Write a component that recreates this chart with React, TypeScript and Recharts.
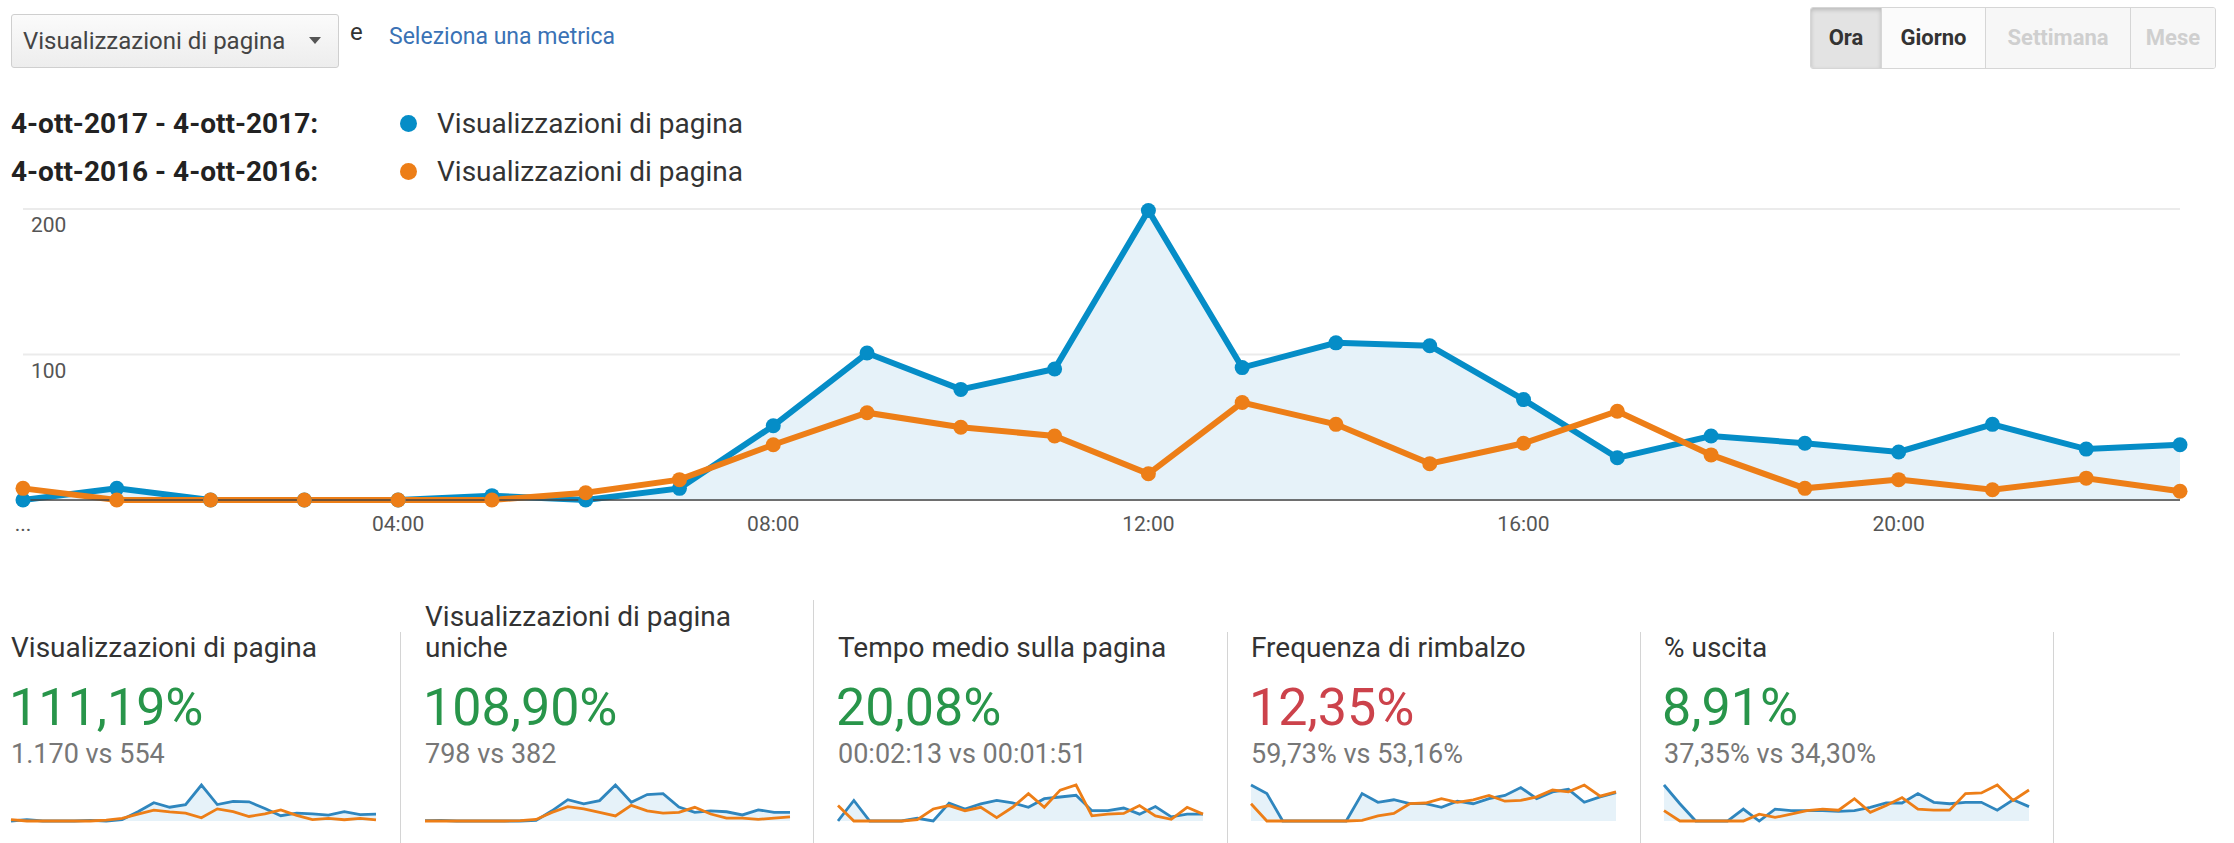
import React from "react";
import { ComposedChart, Area, Line, XAxis, YAxis, CartesianGrid } from "recharts";

// ore del giorno (asse X)
const hours = [0, 1, 2, 3, 4, 5, 6, 7, 8, 9, 10, 11, 12, 13, 14, 15, 16, 17, 18, 19, 20, 21, 22, 23];
const tickHours = [0, 4, 8, 12, 16, 20];
const tickLabels = ["...", "04:00", "08:00", "12:00", "16:00", "20:00"];
const yTicks = [0, 100, 200];

// visualizzazioni di pagina
const views2017 = [0, 8, 0, 0, 0, 3, 0, 8, 51, 101, 76, 90, 199, 91, 108, 106, 69, 29, 44, 39, 33, 52, 35, 38];
const views2016 = [8, 0, 0, 0, 0, 0, 5, 14, 38, 60, 50, 44, 18, 67, 52, 25, 39, 61, 31, 8, 14, 7, 15, 6];

// visualizzazioni di pagina uniche
const unique2017 = [1, 2, 0, 0, 0, 0, 0, 2, 32, 67, 54, 64, 113, 59, 83, 86, 44, 27, 32, 29, 19, 35, 27, 27];
const unique2016 = [0, 0, 0, 0, 0, 0, 1, 5, 27, 45, 38, 27, 16, 49, 32, 25, 27, 43, 22, 9, 9, 5, 9, 13];

// tempo medio sulla pagina (secondi)
const time2017 = [0, 144, 0, 0, 0, 19, 0, 125, 84, 120, 144, 127, 96, 156, 168, 180, 72, 72, 91, 48, 101, 29, 48, 48];
const time2016 = [108, 0, 0, 0, 0, 10, 84, 108, 72, 96, 24, 96, 192, 96, 216, 252, 36, 48, 53, 108, 36, 12, 96, 48];

// frequenza di rimbalzo (%)
const bounce2017 = [100, 76, 0, 0, 0, 0, 0, 76, 52, 59, 48, 48, 38, 55, 48, 62, 71, 93, 62, 81, 88, 52, 67, 79];
const bounce2016 = [48, 0, 0, 0, 0, 0, 0, 2, 14, 21, 48, 50, 62, 52, 59, 71, 55, 57, 67, 86, 81, 100, 69, 81];

// % uscita
const exit2017 = [100, 48, 0, 0, 0, 33, 0, 33, 29, 29, 29, 27, 29, 38, 50, 50, 76, 52, 48, 52, 52, 30, 59, 40];
const exit2016 = [29, 0, 0, 0, 0, 0, 19, 10, 19, 29, 33, 30, 62, 24, 43, 65, 33, 30, 30, 76, 78, 100, 57, 86];

const cardTitles = [["Visualizzazioni di pagina"], ["Visualizzazioni di pagina", "uniche"], ["Tempo medio sulla pagina"], ["Frequenza di rimbalzo"], ["% uscita"]];
const cardChanges = ["111,19%", "108,90%", "20,08%", "12,35%", "8,91%"];
const cardCompare = ["1.170 vs 554", "798 vs 382", "00:02:13 vs 00:01:51", "59,73% vs 53,16%", "37,35% vs 34,30%"];
const cardGood = [true, true, true, false, true];

const BLUE = "#058dc7";
const ORANGE = "#ed7e17";
const FILL = "#e6f2f9";
const FONT = "Roboto, Arial, sans-serif";

const cardLeft = [11, 425, 838, 1251, 1664];
const dividers = [400, 813, 1227, 1640, 2053];

function Txt({ x, cy, size, color = "#333", bold = false, children }: any) {
  return (
    <div
      style={{
        position: "absolute",
        left: x,
        top: cy - size / 2,
        fontSize: size,
        lineHeight: `${size}px`,
        color,
        fontWeight: bold ? 700 : 400,
        whiteSpace: "nowrap",
      }}
    >
      {children}
    </div>
  );
}

function Sparkline({ cur, prev, left }: { cur: number[]; prev: number[]; left: number }) {
  const data = hours.map((h, i) => ({ h, cur: cur[i], prev: prev[i] }));
  const max = Math.max(...cur, ...prev);
  return (
    <div style={{ position: "absolute", left, top: 781 }}>
      <ComposedChart width={367} height={44} data={data} margin={{ top: 4, right: 1, bottom: 4, left: 1 }}>
        <XAxis dataKey="h" type="number" domain={[0, 23]} hide />
        <YAxis domain={[0, max]} hide />
        <Area type="linear" dataKey="cur" stroke="none" fill={FILL} fillOpacity={1} isAnimationActive={false} />
        <Line type="linear" dataKey="cur" stroke="#2f86be" strokeWidth={2.8} dot={false} isAnimationActive={false} />
        <Line type="linear" dataKey="prev" stroke={ORANGE} strokeWidth={2.8} dot={false} isAnimationActive={false} />
      </ComposedChart>
    </div>
  );
}

const sparkSeries = [
  [views2017, views2016],
  [unique2017, unique2016],
  [time2017, time2016],
  [bounce2017, bounce2016],
  [exit2017, exit2016],
];

export default function App() {
  const data = hours.map((h, i) => ({ h, cur: views2017[i], prev: views2016[i] }));

  const btn = (label: string, w: number, bg: string, color: string, extra: any = {}) => (
    <div
      style={{
        width: w,
        height: 60,
        lineHeight: "60px",
        textAlign: "center",
        background: bg,
        color,
        fontWeight: 700,
        fontSize: 22,
        borderRight: "1px solid #d6d6d6",
        boxSizing: "border-box",
        ...extra,
      }}
    >
      {label}
    </div>
  );

  return (
    <div style={{ position: "relative", width: 2234, height: 843, background: "#fff", fontFamily: FONT, overflow: "hidden" }}>
      <style>{`body{margin:0}`}</style>

      {/* selettore metrica */}
      <div
        style={{
          position: "absolute",
          left: 11,
          top: 14,
          width: 328,
          height: 54,
          boxSizing: "border-box",
          border: "1px solid #cfcfcf",
          borderRadius: 3,
          background: "linear-gradient(#fbfbfb, #ededed)",
        }}
      >
        <div style={{ position: "absolute", left: 11, top: 0, lineHeight: "52px", fontSize: 24, color: "#444" }}>
          Visualizzazioni di pagina
        </div>
        <div
          style={{
            position: "absolute",
            left: 297,
            top: 22,
            width: 0,
            height: 0,
            borderLeft: "6px solid transparent",
            borderRight: "6px solid transparent",
            borderTop: "7px solid #555",
          }}
        />
      </div>
      <Txt x={350} cy={32} size={24} color="#333">e</Txt>
      <Txt x={389} cy={36} size={23} color="#3a72b5">Seleziona una metrica</Txt>

      {/* pulsanti periodo */}
      <div
        style={{
          position: "absolute",
          left: 1810,
          top: 7,
          display: "flex",
          border: "1px solid #d6d6d6",
          borderRadius: 3,
          overflow: "hidden",
        }}
      >
        {btn("Ora", 71, "#e3e3e3", "#333", { boxShadow: "inset 0 2px 4px rgba(0,0,0,0.18)" })}
        {btn("Giorno", 104, "#fbfbfb", "#333")}
        {btn("Settimana", 145, "#f7f7f7", "#cfcfcf")}
        {btn("Mese", 84, "#f7f7f7", "#cfcfcf", { borderRight: "none" })}
      </div>

      {/* legenda */}
      <Txt x={11} cy={124} size={28} bold color="#222">4-ott-2017 - 4-ott-2017:</Txt>
      <Txt x={11} cy={172} size={28} bold color="#222">4-ott-2016 - 4-ott-2016:</Txt>
      <div style={{ position: "absolute", left: 400, top: 115, width: 17, height: 17, borderRadius: 9, background: BLUE }} />
      <div style={{ position: "absolute", left: 400, top: 163, width: 17, height: 17, borderRadius: 9, background: ORANGE }} />
      <Txt x={437} cy={124} size={28} color="#333">Visualizzazioni di pagina</Txt>
      <Txt x={437} cy={172} size={28} color="#333">Visualizzazioni di pagina</Txt>

      {/* grafico principale */}
      <div style={{ position: "absolute", left: 0, top: 190 }}>
        <ComposedChart width={2234} height={360} data={data} margin={{ top: 19, right: 54, bottom: 10, left: 23 }}>
          <CartesianGrid vertical={false} stroke="#ebebeb" strokeWidth={2} />
          <XAxis
            dataKey="h"
            type="number"
            domain={[0, 23]}
            ticks={tickHours}
            tickFormatter={(v: number) => tickLabels[tickHours.indexOf(v)]}
            height={40}
            tickLine={false}
            tickMargin={10}
            axisLine={{ stroke: "#444", strokeWidth: 1.5 }}
            tick={{ fill: "#555", fontSize: 21, fontFamily: FONT }}
          />
          <YAxis
            domain={[0, 200]}
            ticks={yTicks}
            mirror
            width={40}
            axisLine={false}
            tickLine={false}
            tickSize={0}
            tickMargin={8}
            tickFormatter={(v: number) => (v === 0 ? "" : String(v))}
            tick={{ fill: "#555", fontSize: 21, fontFamily: FONT, dy: 16 }}
          />
          <Area type="linear" dataKey="cur" stroke="none" fill={FILL} fillOpacity={1} isAnimationActive={false} />
          <Line
            type="linear"
            dataKey="cur"
            stroke={BLUE}
            strokeWidth={6}
            dot={{ r: 7.5, fill: BLUE, stroke: BLUE, strokeWidth: 0 }}
            activeDot={false}
            isAnimationActive={false}
          />
          <Line
            type="linear"
            dataKey="prev"
            stroke={ORANGE}
            strokeWidth={6}
            dot={{ r: 7.5, fill: ORANGE, stroke: ORANGE, strokeWidth: 0 }}
            activeDot={false}
            isAnimationActive={false}
          />
        </ComposedChart>
      </div>

      {/* schede riepilogo */}
      {dividers.map((x, i) => (
        <div
          key={x}
          style={{ position: "absolute", left: x, top: i === 1 ? 600 : 632, width: 1, height: 843, background: "#d4d4d4" }}
        />
      ))}
      {cardLeft.map((x, i) => (
        <React.Fragment key={x}>
          {cardTitles[i].length === 2 ? (
            <>
              <Txt x={x} cy={617} size={28} color="#333">{cardTitles[i][0]}</Txt>
              <Txt x={x} cy={648} size={28} color="#333">{cardTitles[i][1]}</Txt>
            </>
          ) : (
            <Txt x={x} cy={648} size={28} color="#333">{cardTitles[i][0]}</Txt>
          )}
          <Txt x={x - 2} cy={708} size={52} color={cardGood[i] ? "#28954a" : "#cc424b"}>{cardChanges[i]}</Txt>
          <Txt x={x} cy={754} size={27} color="#777">{cardCompare[i]}</Txt>
          <Sparkline cur={sparkSeries[i][0]} prev={sparkSeries[i][1]} left={x - 1} />
        </React.Fragment>
      ))}
    </div>
  );
}
